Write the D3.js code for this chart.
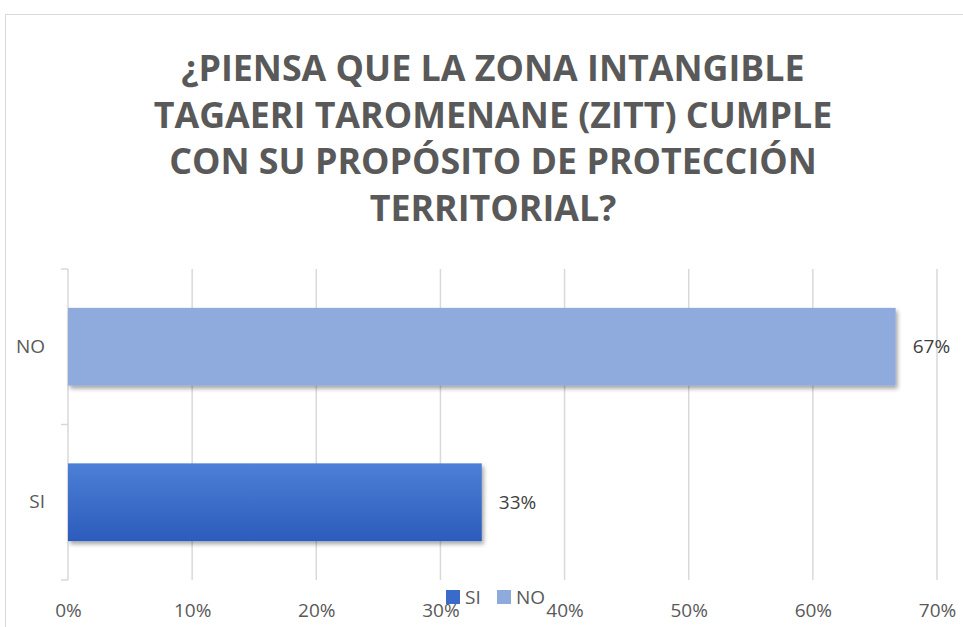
<!DOCTYPE html>
<html>
<head>
<meta charset="utf-8">
<script src="https://cdn.jsdelivr.net/npm/d3@7"></script>
<style>
  body { margin: 0; background: #fff; }
  svg text { font-family: "Open Sans", "Liberation Sans", sans-serif; }
  .title { font-weight: 700; fill: #595959; }
  .tick text { fill: #595959; font-size: 19px; font-family: "Open Sans", sans-serif; }
</style>
</head>
<body>
<svg width="963" height="627"></svg>
<script>
(function () {
  "use strict";
  const categories = ["SI", "NO"];
  const values = [0.3333, 0.6667];
  const labels = ["33%", "67%"];
  const colors = ["#3b6bc8", "#8faadc"];
  const ticks = [0, 0.1, 0.2, 0.3, 0.4, 0.5, 0.6, 0.7];
  const titleLines = [
    "¿PIENSA QUE LA ZONA INTANGIBLE",
    "TAGAERI TAROMENANE (ZITT) CUMPLE",
    "CON SU PROPÓSITO DE PROTECCIÓN",
    "TERRITORIAL?"
  ];

  const svg = d3.select("svg");
  const width = +svg.attr("width");

  // chart frame
  svg.append("rect")
    .attr("x", 5.5).attr("y", 14.5)
    .attr("width", 970).attr("height", 640)
    .attr("fill", "#fff").attr("stroke", "#d9d9d9");

  const defs = svg.append("defs");
  const grad = defs.append("linearGradient")
    .attr("id", "siGrad").attr("x1", 0).attr("y1", 0).attr("x2", 0).attr("y2", 1);
  grad.append("stop").attr("offset", "0%").attr("stop-color", "#4d7fd6");
  grad.append("stop").attr("offset", "100%").attr("stop-color", "#2c5cbc");
  const shadow = defs.append("filter").attr("id", "shadow")
    .attr("x", "-5%").attr("y", "-10%").attr("width", "115%").attr("height", "130%");
  shadow.append("feDropShadow")
    .attr("dx", 2).attr("dy", 3).attr("stdDeviation", 2)
    .attr("flood-color", "#000").attr("flood-opacity", 0.35);

  // title
  svg.append("text")
    .attr("class", "title")
    .attr("text-anchor", "middle")
    .attr("font-size", 35.8)
    .selectAll("tspan")
    .data(titleLines)
    .enter()
    .append("tspan")
    .attr("x", 493)
    .attr("y", (d, i) => 81 + i * 46.5)
    .text((d) => d);

  const margin = { top: 269, left: 68, right: 26, bottom: 47 };
  const innerWidth = width - margin.left - margin.right;
  const innerHeight = 580 - margin.top;

  const xScale = d3.scaleLinear().domain([0, 0.7]).range([0, innerWidth]);
  const yScale = d3.scaleBand()
    .domain(categories.slice().reverse())
    .range([0, innerHeight])
    .paddingInner(0.5)
    .paddingOuter(0.25);

  const g = svg.append("g")
    .attr("transform", `translate(${margin.left},${margin.top})`);

  // gridlines
  g.selectAll(".grid")
    .data(ticks.slice(1))
    .enter()
    .append("line")
    .attr("x1", (d) => xScale(d)).attr("x2", (d) => xScale(d))
    .attr("y1", 0).attr("y2", innerHeight)
    .attr("stroke", "#d9d9d9").attr("stroke-width", 1.5);

  // y axis with outer ticks between categories
  const yAxis = g.append("g")
    .call(d3.axisLeft(yScale).tickSize(0).tickPadding(23));
  yAxis.select(".domain").attr("stroke", "#d9d9d9").attr("stroke-width", 1.5)
    .attr("d", `M0,0V${innerHeight}`);
  const sepTicks = [0, innerHeight / 2, innerHeight];
  yAxis.selectAll(".sep")
    .data(sepTicks)
    .enter()
    .append("line")
    .attr("x1", -7).attr("x2", 0)
    .attr("y1", (d) => d).attr("y2", (d) => d)
    .attr("stroke", "#d9d9d9").attr("stroke-width", 1.5);

  // x axis
  const xAxis = g.append("g")
    .attr("transform", `translate(0,${innerHeight})`)
    .call(d3.axisBottom(xScale).tickValues(ticks).tickFormat(d3.format(".0%")).tickSize(0).tickPadding(24));
  xAxis.select(".domain").remove();

  // bars
  g.selectAll(".bar")
    .data(categories)
    .enter()
    .append("rect")
    .attr("class", "bar")
    .attr("x", 0)
    .attr("y", (d) => yScale(d))
    .attr("width", (d, i) => xScale(values[i]))
    .attr("height", yScale.bandwidth())
    .attr("fill", (d, i) => (i === 0 ? "url(#siGrad)" : colors[i]))
    .attr("filter", "url(#shadow)");

  // data labels
  g.selectAll(".lbl")
    .data(categories)
    .enter()
    .append("text")
    .attr("x", (d, i) => xScale(values[i]) + 17)
    .attr("y", (d) => yScale(d) + yScale.bandwidth() / 2)
    .attr("dy", "0.35em")
    .attr("fill", "#404040")
    .attr("font-size", 19)
    .text((d, i) => labels[i]);

  // legend
  const legend = svg.append("g").attr("transform", "translate(446,590)");
  const item = legend.selectAll("g")
    .data(categories)
    .enter()
    .append("g")
    .attr("transform", (d, i) => `translate(${i * 51},0)`);
  item.append("rect")
    .attr("width", 14).attr("height", 14)
    .attr("fill", (d, i) => colors[i]);
  item.append("text")
    .attr("x", 19).attr("y", 7).attr("dy", "0.35em")
    .attr("fill", "#595959").attr("font-size", 19)
    .text((d) => d);
})();
</script>
</body>
</html>
